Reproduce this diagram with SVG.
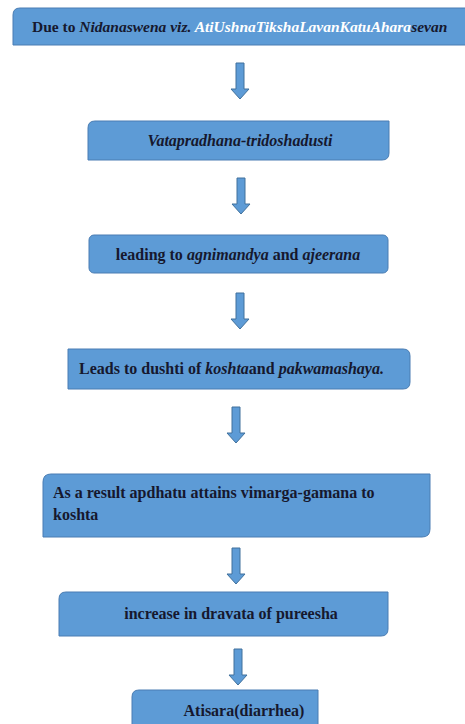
<svg xmlns="http://www.w3.org/2000/svg" width="465" height="724" viewBox="0 0 465 724">
<defs>
<style>
.box{fill:#5d9bd6;stroke:#4a7db3;stroke-width:1}
.arr{fill:#5d9bd6;stroke:#41719c;stroke-width:1}
.t{font-family:'Liberation Serif','DejaVu Serif','Times New Roman',serif;font-weight:bold;font-size:16px;fill:#16182e}
.i{font-style:italic}
.w{fill:#ffffff}
</style>
<path id="arrow" class="arr" d="M-4,0 H4 V26 H9 L0,36 L-9,26 H-4 Z"/>
</defs>
<rect width="465" height="724" fill="#ffffff"/>
<g id="connectors">
<use href="#arrow" x="240" y="63"/>
<use href="#arrow" x="241" y="178"/>
<use href="#arrow" x="240" y="293"/>
<use href="#arrow" x="236" y="407"/>
<use href="#arrow" x="236" y="548"/>
<use href="#arrow" x="238" y="649"/>
</g>
<g id="n1">
<path class="box" d="M13,45 V15 Q13,8 20,8 H470 V45 Z"/>
<text class="t" x="32" y="32" style="font-size:15.5px">Due to <tspan class="i">Nidanaswena viz. </tspan><tspan class="i w">AtiUshnaTikshaLavanKatuAhara</tspan><tspan class="i">sevan</tspan></text>
</g>
<g id="n2">
<path class="box" d="M88,160 V128 Q88,121 95,121 H389 V153 Q389,160 382,160 Z"/>
<text class="t i" x="240" y="146" text-anchor="middle">Vatapradhana-tridoshadusti</text>
</g>
<g id="n3">
<rect class="box" x="89" y="235" width="299" height="38" rx="5"/>
<text class="t" x="238" y="260" text-anchor="middle">leading to <tspan class="i">agnimandya</tspan> and <tspan class="i">ajeerana</tspan></text>
</g>
<g id="n4">
<path class="box" d="M68,349 H403 Q410,349 410,356 V382 Q410,389 403,389 H68 Z"/>
<text class="t" x="79" y="374">Leads to dushti of  <tspan class="i">koshta</tspan>and <tspan class="i">pakwamashaya.</tspan></text>
</g>
<g id="n5">
<path class="box" d="M43,537 V482 Q43,474 51,474 H430 V529 Q430,537 422,537 Z"/>
<text class="t" x="53" y="498">As a result  apdhatu attains vimarga-gamana  to</text>
<text class="t" x="53" y="520">koshta</text>
</g>
<g id="n6">
<path class="box" d="M59,636 V599 Q59,592 66,592 H388 V629 Q388,636 381,636 Z"/>
<text class="t" x="231" y="619" text-anchor="middle">increase in dravata of pureesha</text>
</g>
<g id="n7">
<path class="box" d="M132,730 V697 Q132,690 139,690 H318 V730 Z"/>
<text class="t" x="244" y="716" text-anchor="middle">Atisara(diarrhea)</text>
</g>
</svg>
